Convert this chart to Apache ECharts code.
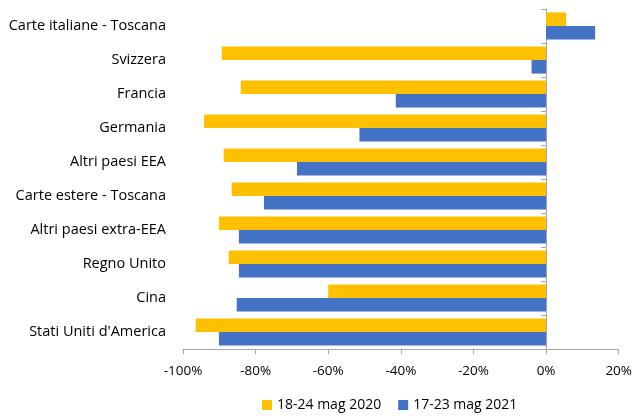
<!DOCTYPE html>
<html>
<head>
<meta charset="utf-8">
<script src="https://cdn.jsdelivr.net/npm/echarts@6/dist/echarts.min.js"></script>
<style>
  html, body { margin: 0; padding: 0; background: #fff; }
  #chart { width: 635px; height: 418px; }
</style>
</head>
<body>
<div id="chart"></div>
<script>
const categories = ['Carte italiane - Toscana', 'Svizzera', 'Francia', 'Germania', 'Altri paesi EEA',
  'Carte estere - Toscana', 'Altri paesi extra-EEA', 'Regno Unito', 'Cina', "Stati Uniti d'America"]
const seriesNames = ['18-24 mag 2020', '17-23 mag 2021']
// variazioni percentuali
const values2020 = [5.5, -89.3, -84.1, -94.2, -88.8, -86.6, -90.1, -87.4, -60.0, -96.5]
const values2021 = [13.5, -4.0, -41.4, -51.4, -68.6, -77.7, -84.6, -84.6, -85.2, -90.1]

const font = 'Open Sans'
const axisGray = '#A6A6A6'

const chart = echarts.init(document.getElementById('chart'))
chart.setOption({
  animation: false,
  textStyle: { fontFamily: font },
  grid: { left: 183, right: 15, top: 9, bottom: 69 },
  legend: {
    bottom: 1,
    left: 257,
    icon: 'rect',
    itemWidth: 10,
    itemHeight: 10,
    itemGap: 17,
    itemTextGap: 4,
    textStyle: { fontSize: 14, color: '#000', fontFamily: font },
    data: seriesNames
  },
  xAxis: {
    type: 'value',
    min: -100,
    max: 20,
    interval: 20,
    splitLine: { show: false },
    axisLine: { show: true, lineStyle: { color: axisGray } },
    axisTick: { show: true, length: 5, lineStyle: { color: axisGray } },
    axisLabel: { formatter: '{value}%', fontSize: 13.5, color: '#000', margin: 15 }
  },
  yAxis: [
    {
      // linea verticale sullo zero
      type: 'category',
      inverse: true,
      data: categories,
      axisLine: { onZero: true, lineStyle: { color: axisGray } },
      axisTick: { show: true, length: 5, lineStyle: { color: axisGray } },
      axisLabel: { show: false }
    },
    {
      // etichette a sinistra
      type: 'category',
      inverse: true,
      position: 'left',
      data: categories,
      axisLine: { show: false, onZero: false },
      axisTick: { show: false },
      axisLabel: { fontSize: 14.5, color: '#000', margin: 17, padding: [3, 0, 0, 0] }
    }
  ],
  series: [
    {
      name: seriesNames[0],
      type: 'bar',
      data: values2020,
      barCategoryGap: '20%',
      barGap: '0%',
      itemStyle: { color: '#FFC000' }
    },
    {
      name: seriesNames[1],
      type: 'bar',
      data: values2021,
      barCategoryGap: '20%',
      barGap: '0%',
      itemStyle: { color: '#4472C4' }
    }
  ]
})
</script>
</body>
</html>
